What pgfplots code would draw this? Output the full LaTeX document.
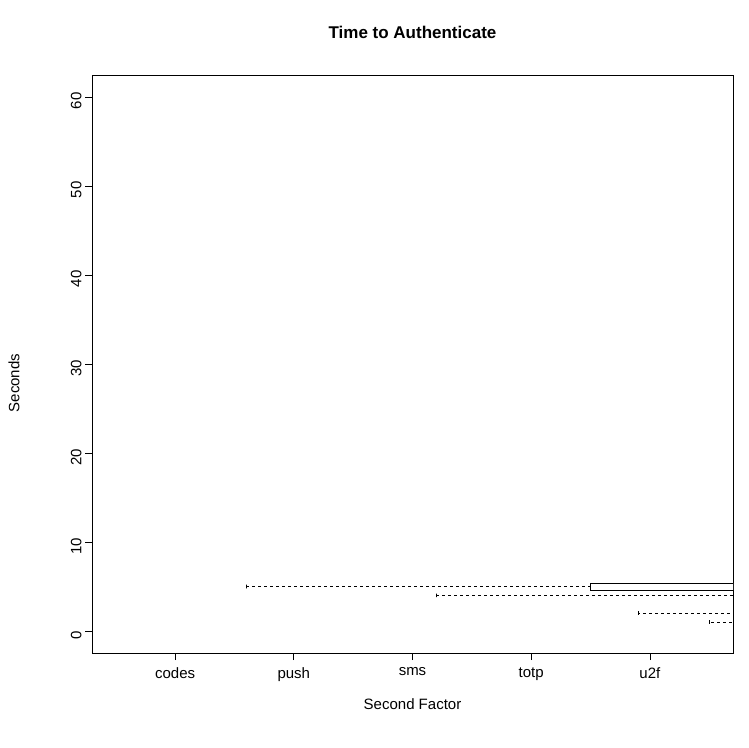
\documentclass[border=0pt]{standalone}
\usepackage{pgfplots}
\pgfplotsset{compat=1.18}
\usepgfplotslibrary{statistics}
\usepackage{fontspec}
\setmainfont{Liberation Sans}
\newcommand{\solidcap}[2]{\addplot[black, line width=0.6pt, boxplot prepared={draw position=#1, lower whisker=#2, lower quartile=#2, median=#2, upper quartile=#2, upper whisker=#2, box extend=0.4, every median/.style={line width=0.6pt}}] coordinates {};}
\begin{document}
\begin{tikzpicture}
\begin{axis}[
  scale only axis, width=641pt, height=578pt,
  xmin=0.3, xmax=5.7, ymin=-2.47, ymax=62.47,
  xtick={1,2,3,4,5}, xticklabels={codes,push,sms,totp,u2f},
  ytick={0,10,20,30,40,50,60},
  tick align=outside, major tick length=7pt,
  tick style={black, line width=0.6pt},
  axis line style={line width=0.6pt},
  xtick pos=bottom, ytick pos=left,
  ticklabel style={font=\fontsize{15}{18}\selectfont},
  xticklabel style={yshift=-4pt},
  yticklabel style={rotate=90, anchor=south, xshift=-4pt},
  /pgf/number format/assume math mode=true,
  boxplot/box extend=0.8,
  boxplot/whisker extend=0,
  boxplot/every box/.style={draw=black, fill=white, line width=0.6pt},
  boxplot/every median/.style={line width=2.6pt},
  boxplot/every whisker/.style={dashed, line width=0.6pt},
]
\addplot+[black, mark=o, mark size=4pt, mark options={line width=0.6pt, solid}, boxplot prepared={draw position=1, lower whisker=5.5, lower quartile=11.3, median=17.2, upper quartile=25.3, upper whisker=43.2}]
  coordinates {(0,47.3) (0,48.3) (0,53.7) (0,57.7) (0,58.3)};
\addplot+[black, mark=o, mark size=4pt, mark options={line width=0.6pt, solid}, boxplot prepared={draw position=2, lower whisker=4.9, lower quartile=8.4, median=11.8, upper quartile=17.6, upper whisker=30.4}]
  coordinates {(0,32.0) (0,32.2) (0,34.1) (0,37.0) (0,39.7) (0,40.0)};
\addplot+[black, mark=o, mark size=4pt, mark options={line width=0.6pt, solid}, boxplot prepared={draw position=3, lower whisker=6.3, lower quartile=12.95, median=16.6, upper quartile=22.1, upper whisker=33.6}]
  coordinates {(0,35.9) (0,36.3) (0,36.8) (0,41.3) (0,43.2) (0,47.1) (0,47.5) (0,54.3) (0,58.7)};
\addplot+[black, mark=o, mark size=4pt, mark options={line width=0.6pt, solid}, boxplot prepared={draw position=4, lower whisker=3.2, lower quartile=10.6, median=15.0, upper quartile=23.3, upper whisker=41.5}]
  coordinates {(0,43.5) (0,44.5) (0,45.1) (0,46.8) (0,48.0) (0,49.1) (0,52.1)};
\addplot+[black, mark=o, mark size=4pt, mark options={line width=0.6pt, solid}, boxplot prepared={draw position=5, lower whisker=1.6, lower quartile=4.5, median=9.0, upper quartile=16.2, upper whisker=33.4}]
  coordinates {(0,34.3) (0,34.5) (0,37.2) (0,39.8) (0,45.8) (0,48.2) (0,52.0)};
\solidcap{1}{5.5}\solidcap{1}{43.2}
\solidcap{2}{4.9}\solidcap{2}{30.4}
\solidcap{3}{6.3}\solidcap{3}{33.6}
\solidcap{4}{3.2}\solidcap{4}{41.5}
\solidcap{5}{1.6}\solidcap{5}{33.4}
\end{axis}
\node[font=\bfseries\fontsize{17}{20}\selectfont] at (320.5pt,621pt) {Time to Authenticate};
\node[font=\fontsize{15}{18}\selectfont] at (320.5pt,-51pt) {Second Factor};
\node[font=\fontsize{15}{18}\selectfont, rotate=90] at (-78pt,270pt) {Seconds};
\useasboundingbox (-92pt,-94pt) rectangle (657pt,653pt);
\end{tikzpicture}
\end{document}
